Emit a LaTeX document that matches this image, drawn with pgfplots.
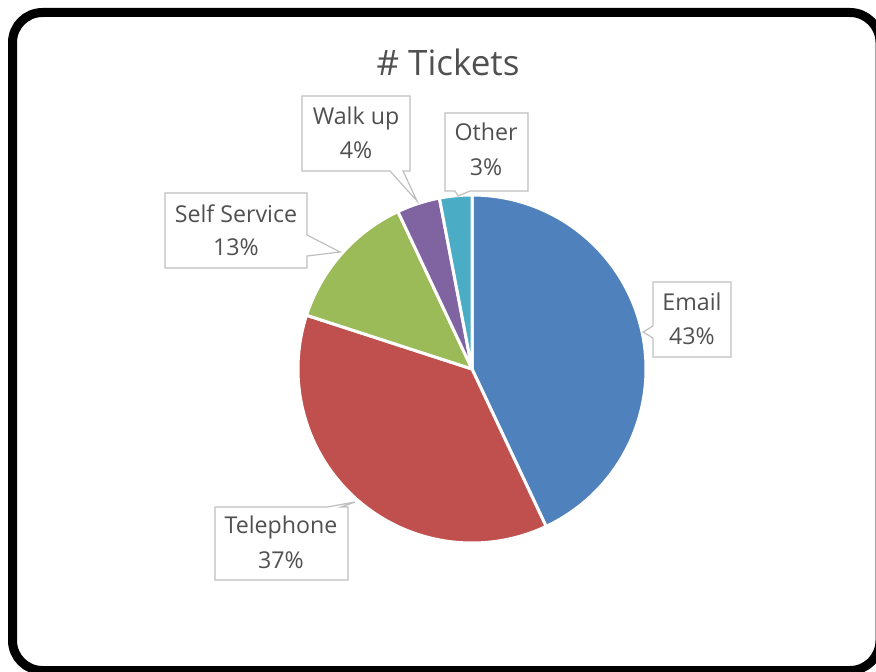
\documentclass[border=0pt]{standalone}
\usepackage{pgfplots}
\pgfplotsset{compat=1.18}
\usepackage{fontspec}
\setmainfont{Open Sans}
\definecolor{cEmail}{HTML}{4F81BD}
\definecolor{cTel}{HTML}{C0504D}
\definecolor{cSelf}{HTML}{9BBB59}
\definecolor{cWalk}{HTML}{8064A2}
\definecolor{cOther}{HTML}{4BACC6}
\definecolor{txt}{HTML}{505050}
\definecolor{boxgray}{HTML}{BFBFBF}
% data (percent)
\def\vEmail{43}
\def\vTel{37}
\def\vSelf{13}
\def\vWalk{4}
\def\vOther{3}
\pgfmathsetmacro\aA{90}
\pgfmathsetmacro\aB{\aA-3.6*\vEmail}
\pgfmathsetmacro\aC{\aB-3.6*\vTel}
\pgfmathsetmacro\aD{\aC-3.6*\vSelf}
\pgfmathsetmacro\aE{\aD-3.6*\vWalk}
\pgfmathsetmacro\aF{\aE-3.6*\vOther}
\def\cx{472}
\def\cy{302}
\def\rr{174}
\begin{document}
\begin{tikzpicture}[x=0.5pt,y=0.5pt]
\useasboundingbox (0,0) rectangle (876,671);
\clip (0,0) rectangle (876,671);
\fill[white] (0,0) rectangle (876,671);
\begin{axis}[hide axis, x=0.5pt, y=0.5pt, xmin=0, xmax=876, ymin=0, ymax=671,
  anchor=origin, at={(0,0)}, scale only axis, clip=false]
\pgfplotsset{wedge/.style={draw=white, line width=1.5pt, line join=round, samples=90, variable=\t}}
\addplot[wedge, fill=cEmail, domain=\aB:\aA] ({\cx+\rr*cos(\t)},{\cy+\rr*sin(\t)}) -- (axis cs:\cx,\cy) -- cycle;
\addplot[wedge, fill=cTel, domain=\aC:\aB] ({\cx+\rr*cos(\t)},{\cy+\rr*sin(\t)}) -- (axis cs:\cx,\cy) -- cycle;
\addplot[wedge, fill=cSelf, domain=\aD:\aC] ({\cx+\rr*cos(\t)},{\cy+\rr*sin(\t)}) -- (axis cs:\cx,\cy) -- cycle;
\addplot[wedge, fill=cWalk, domain=\aE:\aD] ({\cx+\rr*cos(\t)},{\cy+\rr*sin(\t)}) -- (axis cs:\cx,\cy) -- cycle;
\addplot[wedge, fill=cOther, domain=\aF:\aE] ({\cx+\rr*cos(\t)},{\cy+\rr*sin(\t)}) -- (axis cs:\cx,\cy) -- cycle;
% callouts
\begin{scope}[draw=boxgray, fill=white, line width=0.6pt]
\filldraw (axis cs:653,389) -- (axis cs:731,389) -- (axis cs:731,314) -- (axis cs:653,314) -- (axis cs:653,333) -- (axis cs:643,339) -- (axis cs:653,345) -- cycle;
\filldraw (axis cs:215,164) -- (axis cs:327,164) -- (axis cs:355,169) -- (axis cs:341,164) -- (axis cs:348,164) -- (axis cs:348,91) -- (axis cs:215,91) -- cycle;
\filldraw (axis cs:165,478) -- (axis cs:307,478) -- (axis cs:307,436) -- (axis cs:340,419) -- (axis cs:307,415) -- (axis cs:307,403) -- (axis cs:165,403) -- cycle;
\filldraw (axis cs:302,575) -- (axis cs:410,575) -- (axis cs:410,500) -- (axis cs:403,500) -- (axis cs:417,470) -- (axis cs:390,500) -- (axis cs:302,500) -- cycle;
\filldraw (axis cs:445,558) -- (axis cs:528,558) -- (axis cs:528,480) -- (axis cs:470,480) -- (axis cs:458,475) -- (axis cs:455,480) -- (axis cs:445,480) -- cycle;
\end{scope}
\begin{scope}[every node/.style={text=txt, font=\fontsize{11.6}{13}\selectfont, inner sep=0pt}]
\node at (axis cs:692,369) {Email};
\node at (axis cs:692,335) {43\%};
\node at (axis cs:281,144) {Telephone};
\node at (axis cs:281,111) {37\%};
\node at (axis cs:236,457) {Self Service};
\node at (axis cs:236,424) {13\%};
\node at (axis cs:356,553) {Walk up};
\node at (axis cs:356,521) {4\%};
\node at (axis cs:486,539) {Other};
\node at (axis cs:486,504) {3\%};
\end{scope}
\node[text=txt, font=\fontsize{17.5}{20}\selectfont, inner sep=0pt] at (axis cs:448,609) {\# Tickets};
\end{axis}
\draw[line width=4.5pt, rounded corners=15pt] (12.5,0.5) rectangle (880,658.5);
\end{tikzpicture}
\end{document}
